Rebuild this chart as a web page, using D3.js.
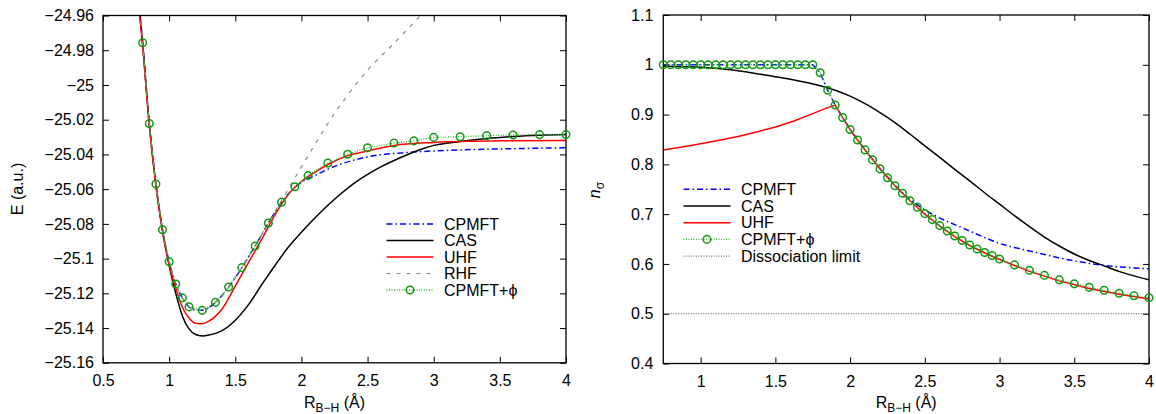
<!DOCTYPE html>
<html>
<head>
<meta charset="utf-8">
<script src="https://cdn.jsdelivr.net/npm/d3@7"></script>
<style>
body { margin: 0; background: #fff; }
svg text { font-family: "Liberation Sans", Arial, Helvetica, sans-serif; font-size: 16px; fill: #000; }
</style>
</head>
<body>
<svg id="chart" width="1156" height="414"></svg>
<script>
// ---------- left panel: E(R) of BH ----------
var eX_cpmft = [0.75,0.80,0.85,0.90,0.95,1.00,1.05,1.10,1.15,1.20,1.25,1.30,1.40,1.50,1.60,1.70,1.80,1.90,2.00,2.10,2.20,2.30,2.40,2.50,2.60,2.80,3.00,3.20,3.40,3.60,3.80,4.00];
var eY_cpmft = [-24.935,-24.9757,-25.0222,-25.0570,-25.0834,-25.1018,-25.1146,-25.1226,-25.1278,-25.1296,-25.1298,-25.1282,-25.1212,-25.1110,-25.0990,-25.0862,-25.0733,-25.0628,-25.0560,-25.0522,-25.0485,-25.0455,-25.0432,-25.0414,-25.0402,-25.0389,-25.0380,-25.0374,-25.0370,-25.0367,-25.0364,-25.0362];

var eX_cas = [0.75,0.80,0.85,0.90,0.95,1.00,1.05,1.10,1.15,1.20,1.25,1.30,1.40,1.50,1.60,1.70,1.80,1.90,2.00,2.10,2.20,2.30,2.40,2.50,2.60,2.70,2.80,2.90,3.00,3.20,3.40,3.60,3.80,4.00];
var eY_cas = [-24.937,-24.9765,-25.0225,-25.0575,-25.0842,-25.1040,-25.1200,-25.1330,-25.1405,-25.1437,-25.1445,-25.1440,-25.1415,-25.1355,-25.1265,-25.1150,-25.1040,-25.0935,-25.0848,-25.0768,-25.0693,-25.0625,-25.0565,-25.0515,-25.0472,-25.0435,-25.0402,-25.0372,-25.0348,-25.0326,-25.0308,-25.0297,-25.0290,-25.0286];

var eX_uhf = [0.75,0.80,0.85,0.90,0.95,1.00,1.05,1.10,1.15,1.20,1.25,1.30,1.40,1.50,1.60,1.70,1.80,1.90,2.00,2.10,2.20,2.35,2.50,2.70,3.00,3.30,3.60,4.00];
var eY_uhf = [-24.938,-24.9780,-25.0235,-25.0580,-25.0840,-25.1035,-25.1170,-25.1280,-25.1342,-25.1372,-25.1375,-25.1360,-25.1290,-25.1158,-25.1022,-25.0888,-25.0748,-25.0632,-25.0556,-25.0503,-25.0458,-25.0407,-25.0380,-25.0348,-25.0331,-25.0324,-25.0321,-25.0320];

var eX_rhf = [0.75,0.80,0.85,0.90,0.95,1.00,1.05,1.10,1.15,1.20,1.25,1.30,1.40,1.50,1.60,1.70,1.80,1.90,2.00,2.10,2.20,2.30,2.40,2.50,2.60,2.70,2.80,2.90,3.00];
var eY_rhf = [-24.935,-24.9757,-25.0222,-25.0570,-25.0834,-25.1018,-25.1146,-25.1226,-25.1278,-25.1296,-25.1298,-25.1282,-25.1212,-25.1110,-25.0990,-25.0862,-25.0730,-25.0600,-25.0472,-25.0345,-25.0222,-25.0110,-25.0008,-24.9915,-24.9835,-24.9760,-24.9680,-24.9600,-24.9520];

var eX_phi = [0.80,0.85,0.90,0.95,1.00,1.05,1.10,1.15,1.25,1.35,1.45,1.55,1.65,1.75,1.85,1.95,2.05,2.20,2.35,2.50,2.70,2.85,3.00,3.20,3.40,3.60,3.80,4.00];
var eY_phi = [-24.9757,-25.0222,-25.0570,-25.0834,-25.1018,-25.1146,-25.1226,-25.1278,-25.1298,-25.1252,-25.1164,-25.1052,-25.0928,-25.0795,-25.0675,-25.0586,-25.0522,-25.0450,-25.0399,-25.0362,-25.0335,-25.0322,-25.0302,-25.0298,-25.0292,-25.0288,-25.0286,-25.0286];

var eXTicks = [0.5,1,1.5,2,2.5,3,3.5,4];
var eYTicks = [-25.16,-25.14,-25.12,-25.1,-25.08,-25.06,-25.04,-25.02,-25,-24.98,-24.96];
var eLegend = ["CPMFT","CAS","UHF","RHF","CPMFT+\u03d5"];

// ---------- right panel: natural occupation n_sigma ----------
var nX_cpmft = [0.75,1.75,1.80,1.85,1.90,1.95,2.00,2.10,2.20,2.30,2.40,2.50,2.60,2.70,2.80,2.90,3.00,3.10,3.20,3.30,3.40,3.50,3.60,3.70,3.80,3.90,4.00];
var nY_cpmft = [1.0,1.0,0.984,0.949,0.919,0.894,0.870,0.829,0.791,0.758,0.729,0.708,0.692,0.679,0.666,0.653,0.641,0.633,0.626,0.619,0.612,0.606,0.601,0.597,0.594,0.592,0.590];

var nX_cas = [0.75,0.90,1.00,1.10,1.20,1.30,1.40,1.50,1.60,1.70,1.80,1.90,2.00,2.10,2.20,2.30,2.40,2.50,2.60,2.70,2.80,2.90,3.00,3.10,3.20,3.30,3.40,3.50,3.60,3.70,3.80,3.90,4.00];
var nY_cas = [0.997,0.996,0.995,0.993,0.990,0.986,0.981,0.976,0.971,0.965,0.958,0.949,0.937,0.922,0.904,0.884,0.861,0.837,0.814,0.790,0.767,0.743,0.720,0.697,0.675,0.654,0.636,0.620,0.607,0.596,0.585,0.576,0.568];

var nX_uhf = [0.75,0.875,1.0,1.125,1.25,1.375,1.5,1.625,1.75,1.825,1.90,1.95,2.00,2.05,2.10,2.20,2.30,2.40,2.50,2.60,2.70,2.80,2.90,3.00,3.20,3.40,3.60,3.80,4.00];
var nY_uhf = [0.829,0.835,0.8415,0.8485,0.856,0.865,0.875,0.887,0.902,0.911,0.919,0.894,0.870,0.849,0.829,0.791,0.757,0.727,0.700,0.676,0.655,0.637,0.622,0.609,0.585,0.566,0.5505,0.539,0.5295];

var nX_phi = [0.75,0.80,0.85,0.90,0.95,1.00,1.05,1.10,1.15,1.20,1.25,1.30,1.35,1.40,1.45,1.50,1.55,1.60,1.65,1.70,1.75,
              1.80,1.85,1.90,1.95,2.00,2.05,2.10,2.15,2.20,2.25,2.30,2.35,2.40,2.45,2.50,2.55,2.60,2.65,2.70,2.75,2.80,2.85,2.90,2.95,3.00,
              3.10,3.20,3.30,3.40,3.50,3.60,3.70,3.80,3.90,4.00];
var nY_phi = [1,1,1,1,1,1,1,1,1,1,1,1,1,1,1,1,1,1,1,1,1,
              0.984,0.949,0.919,0.894,0.870,0.849,0.829,0.809,0.791,0.773,0.757,0.742,0.727,0.714,0.701,0.689,0.677,0.666,0.656,0.647,0.638,0.630,0.623,0.617,0.610,
              0.598,0.587,0.577,0.568,0.560,0.553,0.547,0.541,0.536,0.532];

var nDissociation = 0.5;
var nXTicks = [1,1.5,2,2.5,3,3.5,4];
var nYTicks = [0.4,0.5,0.6,0.7,0.8,0.9,1,1.1];
var nLegend = ["CPMFT","CAS","UHF","CPMFT+\u03d5","Dissociation limit"];

// line styles
var st = {
    cpmft: {color: "#0000ff", width: 1.5, dash: "6,3,1.5,3"},
    cas:   {color: "#000000", width: 1.5},
    uhf:   {color: "#ff0000", width: 1.5},
    rhf:   {color: "#8a8a8a", width: 1.2, dash: "4,6"},
    phi:   {color: "#33b833", width: 1.3, dash: "1,1.5", mark: "#119911"},
    diss:  {color: "#222222", width: 0.8, dash: "1,1.5"}
};

var svg = d3.select("#chart");
var FONT = '"Liberation Sans", Arial, Helvetica, sans-serif';

function fmtTick(d) {
    return String(+d.toFixed(2)).replace("-", "\u2212");
}

function panel(box, xDomain, yDomain, xTicks, yTicks, pad, clipId) {
    var x = d3.scaleLinear().domain(xDomain).range([box.left, box.right]);
    var y = d3.scaleLinear().domain(yDomain).range([box.bottom, box.top]);
    var g = svg.append("g");
    g.append("clipPath").attr("id", clipId).append("rect")
        .attr("x", box.left).attr("y", box.top)
        .attr("width", box.right - box.left).attr("height", box.bottom - box.top);

    // inward ticks on all four sides, labels only bottom + left
    g.append("g").attr("transform", "translate(0," + box.bottom + ")")
        .call(d3.axisBottom(x).tickValues(xTicks).tickSize(-6).tickPadding(12).tickFormat(fmtTick));
    g.append("g").attr("transform", "translate(0," + box.top + ")")
        .call(d3.axisTop(x).tickValues(xTicks).tickSize(-6).tickFormat(""));
    g.append("g").attr("transform", "translate(" + box.left + ",0)")
        .call(d3.axisLeft(y).tickValues(yTicks).tickSize(-6).tickPadding(pad).tickFormat(fmtTick));
    g.append("g").attr("transform", "translate(" + box.right + ",0)")
        .call(d3.axisRight(y).tickValues(yTicks).tickSize(-6).tickFormat(""));
    g.selectAll(".domain").remove();
    g.selectAll(".tick line").attr("stroke", "#000").attr("stroke-width", 1);
    g.selectAll(".tick text").attr("fill", "#000").style("font-size", "16px").style("font-family", FONT);

    var plot = g.append("g").attr("clip-path", "url(#" + clipId + ")");
    g.append("rect")
        .attr("x", box.left).attr("y", box.top)
        .attr("width", box.right - box.left).attr("height", box.bottom - box.top)
        .attr("fill", "none").attr("stroke", "#000").attr("stroke-width", 1.3);
    return {x: x, y: y, g: g, plot: plot, box: box};
}

function drawLine(p, xs, ys, s, curve) {
    var pts = xs.map(function(d, i) { return [d, ys[i]]; });
    p.plot.append("path").datum(pts)
        .attr("fill", "none")
        .attr("stroke", s.color)
        .attr("stroke-width", s.width)
        .attr("stroke-dasharray", s.dash || null)
        .attr("d", d3.line()
            .x(function(d) { return p.x(d[0]); })
            .y(function(d) { return p.y(d[1]); })
            .curve(curve || d3.curveLinear));
}

function drawMarks(p, xs, ys, s) {
    var ylim = p.y.domain();
    var pts = xs.map(function(d, i) { return [d, ys[i]]; })
        .filter(function(d) { return d[1] >= ylim[0] && d[1] <= ylim[1]; });
    p.g.append("g").selectAll("circle").data(pts).enter().append("circle")
        .attr("cx", function(d) { return p.x(d[0]); })
        .attr("cy", function(d) { return p.y(d[1]); })
        .attr("r", 3.8)
        .attr("fill", "none")
        .attr("stroke", s.mark)
        .attr("stroke-width", 1.5);
}

function legend(x0, y0, dy, labels, styles) {
    var lg = svg.append("g");
    labels.forEach(function(lab, i) {
        var s = styles[i], yy = y0 + i * dy;
        lg.append("line")
            .attr("x1", x0).attr("x2", x0 + 47).attr("y1", yy).attr("y2", yy)
            .attr("stroke", s.color).attr("stroke-width", s.width)
            .attr("stroke-dasharray", s.dash || null);
        if (s.mark) {
            lg.append("circle").attr("cx", x0 + 23.5).attr("cy", yy).attr("r", 3.8)
                .attr("fill", "none").attr("stroke", s.mark).attr("stroke-width", 1.5);
        }
        lg.append("text").attr("x", x0 + 57.5).attr("y", yy + 5.5).text(lab);
    });
}

function xLabel(cx, y) {
    var t = svg.append("text").attr("x", cx).attr("y", y).attr("text-anchor", "middle");
    t.append("tspan").text("R");
    t.append("tspan").attr("dy", 4).style("font-size", "12px").text("B\u2212H");
    t.append("tspan").attr("dy", -4).text(" (\u00c5)");
}

// ---------- left ----------
var L = panel({left: 103, right: 566, top: 15.5, bottom: 362.8},
    [0.5, 4], [-25.16, -24.96], eXTicks, eYTicks, 9, "clipL");
drawLine(L, eX_cpmft, eY_cpmft, st.cpmft, d3.curveMonotoneX);
drawLine(L, eX_cas, eY_cas, st.cas, d3.curveMonotoneX);
drawLine(L, eX_uhf, eY_uhf, st.uhf, d3.curveMonotoneX);
drawLine(L, eX_rhf, eY_rhf, st.rhf, d3.curveMonotoneX);
drawLine(L, eX_phi, eY_phi, st.phi);
drawMarks(L, eX_phi, eY_phi, st.phi);
legend(386.5, 224, 16.5, eLegend, [st.cpmft, st.cas, st.uhf, st.rhf, st.phi]);
xLabel((103 + 566) / 2, 408);
svg.append("text").attr("transform", "translate(22.5,189) rotate(-90)")
    .attr("text-anchor", "middle").text("E (a.u.)");

// ---------- right ----------
var R = panel({left: 663.3, right: 1149, top: 15, bottom: 363.5},
    [0.75, 4], [0.4, 1.1], nXTicks, nYTicks, 10, "clipR");
drawLine(R, [0.75, 4], [nDissociation, nDissociation], st.diss);
drawLine(R, nX_cpmft, nY_cpmft, st.cpmft);
drawLine(R, nX_cas, nY_cas, st.cas, d3.curveMonotoneX);
drawLine(R, nX_uhf, nY_uhf, st.uhf);
drawLine(R, nX_phi, nY_phi, st.phi);
drawMarks(R, nX_phi, nY_phi, st.phi);
legend(683.5, 189.3, 16.7, nLegend, [st.cpmft, st.cas, st.uhf, st.phi, st.diss]);
xLabel((663.3 + 1149) / 2, 408);
var ny = svg.append("text").attr("transform", "translate(600,190) rotate(-90)")
    .attr("text-anchor", "middle");
ny.append("tspan").style("font-style", "italic").text("n");
ny.append("tspan").attr("dy", 4).style("font-size", "12px").text("\u03c3");
</script>
</body>
</html>
